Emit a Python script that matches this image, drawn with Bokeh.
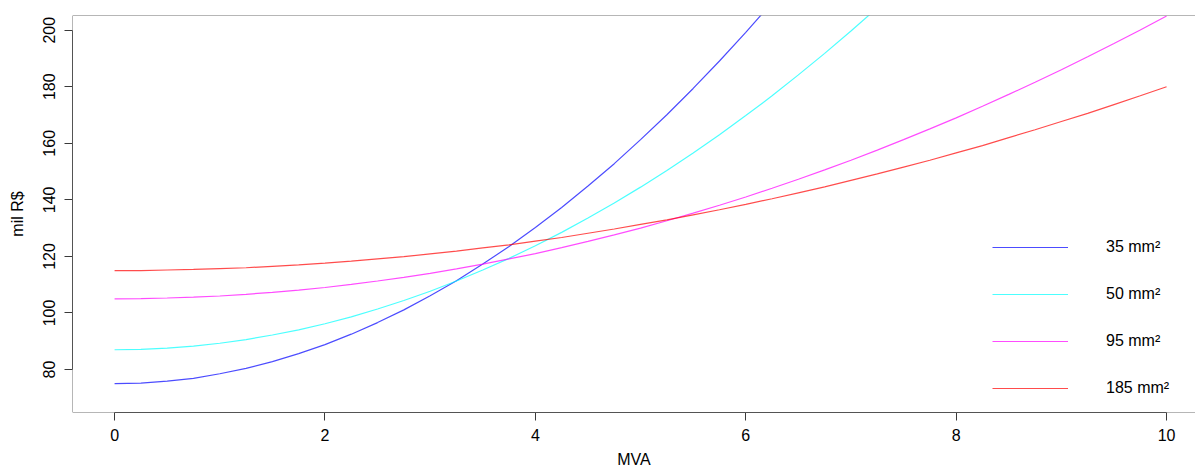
from bokeh.plotting import figure
from bokeh.models import (Range1d, FixedTicker, Legend, LegendItem, Span,
                          ColumnDataSource)
from bokeh.embed import file_html
from bokeh.resources import INLINE

# ---- data ----
mva = [0, 0.25, 0.5, 0.75, 1, 1.25, 1.5, 1.75, 2, 2.25, 2.5, 2.75, 3, 3.25, 3.5, 3.75,
       4, 4.25, 4.5, 4.75, 5, 5.25, 5.5, 5.75, 6, 6.25, 6.5, 6.75, 7, 7.25, 7.5, 7.75,
       8, 8.25, 8.5, 8.75, 9, 9.25, 9.5, 9.75, 10]
cost_35 = [75.0, 75.2, 75.9, 76.9, 78.5, 80.4, 82.8, 85.6, 88.8, 92.5, 96.6, 101.1, 106.1,
           111.4, 117.3, 123.5, 130.2, 137.3, 144.9, 152.8, 161.3, 170.1, 179.4, 189.1,
           199.2, 209.8, 220.8, 232.2, 244.1, 256.3, 269.1, 282.2, 295.8, 309.8, 324.3,
           339.1, 354.5, 370.2, 386.4, 403.0, 420.0]
cost_50 = [87.0, 87.1, 87.6, 88.3, 89.3, 90.6, 92.2, 94.0, 96.2, 98.6, 101.4, 104.4, 107.7,
           111.3, 115.2, 119.3, 123.8, 128.5, 133.6, 138.9, 144.5, 150.4, 156.6, 163.0,
           169.8, 176.8, 184.2, 191.8, 199.7, 207.9, 216.4, 225.1, 234.2, 243.5, 253.2,
           263.1, 273.3, 283.8, 294.6, 305.6, 317.0]
cost_95 = [105.0, 105.1, 105.3, 105.6, 106.0, 106.6, 107.3, 108.1, 109.0, 110.1, 111.3,
           112.6, 114.0, 115.6, 117.3, 119.1, 121.0, 123.1, 125.3, 127.6, 130.0, 132.6,
           135.3, 138.1, 141.0, 144.1, 147.3, 150.6, 154.0, 157.6, 161.3, 165.1, 169.0,
           173.1, 177.3, 181.6, 186.0, 190.6, 195.3, 200.1, 205.0]
cost_185 = [115.0, 115.0, 115.2, 115.4, 115.7, 116.0, 116.5, 117.0, 117.6, 118.3, 119.1,
            119.9, 120.9, 121.9, 123.0, 124.1, 125.4, 126.7, 128.2, 129.7, 131.3, 132.9,
            134.7, 136.5, 138.4, 140.4, 142.5, 144.6, 146.9, 149.2, 151.6, 154.0, 156.6,
            159.2, 162.0, 164.8, 167.7, 170.6, 173.7, 176.8, 180.0]
series_labels = ["35 mm²", "50 mm²", "95 mm²", "185 mm²"]
series_colors = ["#0000FF", "#00FFFF", "#FF00FF", "#FF0000"]
x_ticks = [0, 2, 4, 6, 8, 10]
y_ticks = [80, 100, 120, 140, 160, 180, 200]

FONT = "Liberation Sans"
AXIS_COL = "#3a3a3a"
FRAME_COL = "#6e6e6e"

x0, x1 = -0.4, 10.275
y0, y1 = 64.8, 205.2

p = figure(width=1195, height=472, output_backend="svg", toolbar_location=None,
           x_range=Range1d(x0, x1), y_range=Range1d(y0, y1),
           min_border_left=72, min_border_right=0, min_border_top=15, min_border_bottom=60)
p.outline_line_color = None
p.xgrid.visible = False
p.ygrid.visible = False
p.background_fill_color = "white"
p.border_fill_color = "white"

src = ColumnDataSource(dict(x=mva, c35=cost_35, c50=cost_50, c95=cost_95, c185=cost_185))
renderers = []
for col, color in zip(["c35", "c50", "c95", "c185"], series_colors):
    r = p.line("x", col, source=src, line_color=color, line_width=1.2, line_alpha=0.7)
    renderers.append(r)

# frame (left, top, bottom; right side is off-window in the reference)
for loc, dim in [(x0, "height"), (y1, "width"), (y0, "width")]:
    p.add_layout(Span(location=loc, dimension=dim, line_color=FRAME_COL, line_width=1))

# axes
for ax, ticks, bounds in [(p.xaxis[0], x_ticks, (0, 10)), (p.yaxis[0], y_ticks, (80, 200))]:
    ax.ticker = FixedTicker(ticks=ticks, minor_ticks=[])
    ax.bounds = bounds
    ax.axis_line_color = AXIS_COL
    ax.major_tick_line_color = AXIS_COL
    ax.minor_tick_line_color = None
    ax.major_tick_out = 8
    ax.major_tick_in = 0
    ax.major_label_text_font = FONT
    ax.major_label_text_font_size = "16px"
    ax.major_label_text_color = "black"
    ax.axis_label_text_font = FONT
    ax.axis_label_text_font_size = "16px"
    ax.axis_label_text_font_style = "normal"
    ax.axis_label_text_color = "black"

p.xaxis.major_label_standoff = 8
p.xaxis.axis_label = "MVA"
p.xaxis.axis_label_standoff = 7
p.yaxis.major_label_standoff = 9
p.yaxis.major_label_orientation = "vertical"
p.yaxis.axis_label = "mil R$"
p.yaxis.axis_label_standoff = 15

legend = Legend(items=[LegendItem(label=lab, renderers=[r]) for lab, r in zip(series_labels, renderers)],
                location=(920, 14), orientation="vertical")
legend.border_line_color = None
legend.background_fill_alpha = 0
legend.padding = 0
legend.margin = 0
legend.glyph_width = 76
legend.glyph_height = 20
legend.label_height = 20
legend.spacing = 27
legend.label_standoff = 38
legend.label_text_font = FONT
legend.label_text_font_size = "16px"
legend.label_text_color = "black"
legend.label_text_baseline = "middle"
p.add_layout(legend)

open("out.html", "w").write(file_html(p, INLINE))
